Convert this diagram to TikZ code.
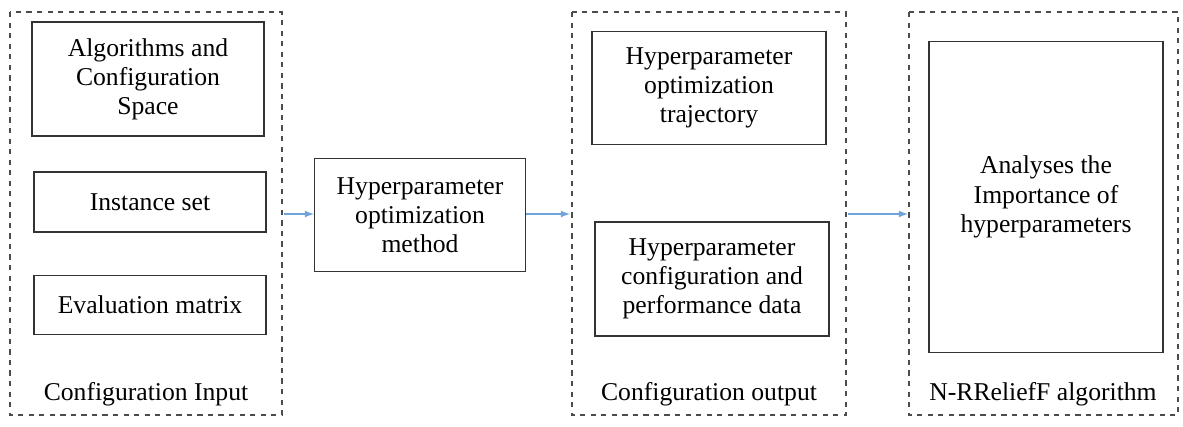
\documentclass[tikz,border=0pt]{standalone}
\usepackage{fontspec}
\setmainfont{Liberation Serif}
\usepackage{xcolor}
\definecolor{arrowblue}{HTML}{6FA3DA}
\begin{document}
\begin{tikzpicture}[x=0.02cm,y=-0.02cm,
        box/.style={draw=black!80, semithick, align=center, inner sep=0pt,
                    font=\fontsize{14.6}{16.6}\selectfont},
        group/.style={draw=black!70, dashed, semithick},
        flow/.style={-latex, arrowblue, thick}]
        \useasboundingbox (0,0) rectangle (1183,426);
        % dashed groups
        \draw [group] (10,12) rectangle (282,415);
        \draw [group] (572,12) rectangle (846,415);
        \draw [group] (909,12) rectangle (1178,415);
        \node [font=\fontsize{14.6}{16}\selectfont] (inlabel) at (146,394) {Configuration Input};
        \node [font=\fontsize{14.6}{16}\selectfont] (outlabel) at (709,394) {Configuration output};
        \node [font=\fontsize{14.6}{16}\selectfont] (rflabel) at (1043,394) {N-RReliefF algorithm};
        % boxes
        \node [box, minimum width=232*0.02cm, minimum height=114*0.02cm] (algo) at (148,79) {Algorithms and\\Configuration\\Space};
        \node [box, minimum width=232*0.02cm, minimum height=60*0.02cm] (inst) at (150,202) {Instance set};
        \node [box, minimum width=232*0.02cm, minimum height=59*0.02cm] (eval) at (150,305) {Evaluation matrix};
        \node [box, minimum width=211*0.02cm, minimum height=113*0.02cm] (hpo) at (420,215) {Hyperparameter\\optimization\\method};
        \node [box, minimum width=234*0.02cm, minimum height=113*0.02cm] (traj) at (709,88) {Hyperparameter\\optimization\\trajectory};
        \node [box, minimum width=234*0.02cm, minimum height=114*0.02cm] (perf) at (712,279) {Hyperparameter\\configuration and\\performance data};
        \node [box, minimum width=234*0.02cm, minimum height=311*0.02cm] (imp) at (1046,197) {Analyses the\\Importance of\\hyperparameters};
        % arrows
        \coordinate (in) at (284,214);
        \coordinate (outin) at (570,214);
        \coordinate (outout) at (848,214);
        \coordinate (rfin) at (908,214);
        \draw [flow] (in) -- (hpo.west |- in);
        \draw [flow] (hpo.east |- outin) -- (outin);
        \draw [flow] (outout) -- (rfin);
\end{tikzpicture}
\end{document}
